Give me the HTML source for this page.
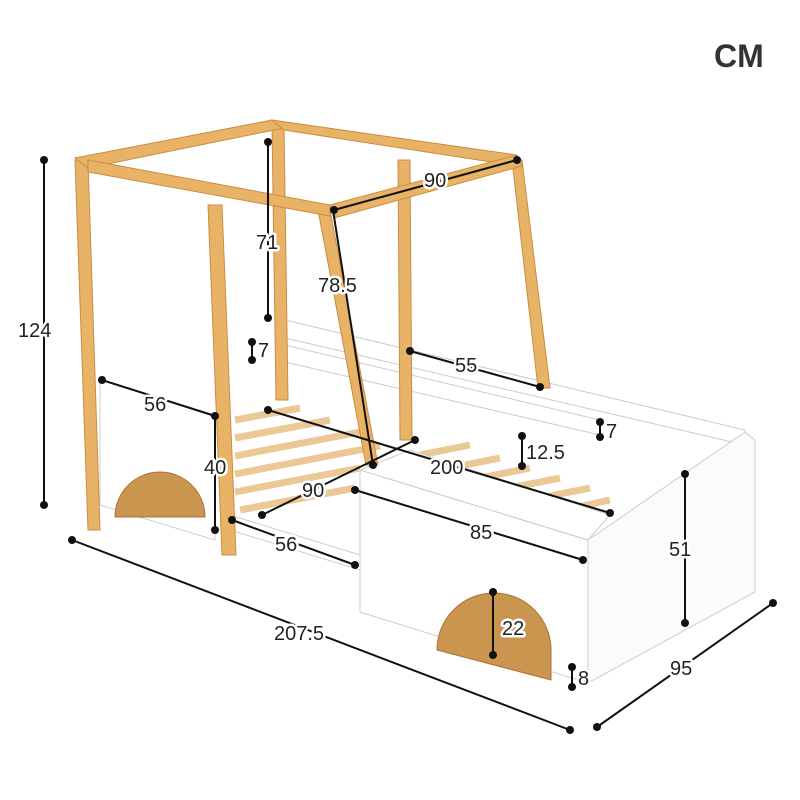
<!DOCTYPE html>
<html><head><style>
html,body{margin:0;padding:0;background:#fff;width:800px;height:800px;overflow:hidden}
svg text{font-family:"Liberation Sans",sans-serif;font-size:20px;fill:#222;stroke:#fff;stroke-width:5px;paint-order:stroke;stroke-linejoin:round}
</style></head><body>
<svg width="800" height="800" viewBox="0 0 800 800" xmlns="http://www.w3.org/2000/svg">
<rect width="800" height="800" fill="#fff"/>
<g stroke="#ecc896" stroke-width="7">
<line x1="235" y1="420" x2="300" y2="408"/><line x1="235" y1="438" x2="330" y2="420"/>
<line x1="235" y1="456" x2="360" y2="432"/><line x1="235" y1="474" x2="380" y2="446"/>
<line x1="235" y1="492" x2="360" y2="468"/><line x1="240" y1="510" x2="355" y2="488"/>
<line x1="420" y1="455" x2="470" y2="445"/><line x1="440" y1="470" x2="500" y2="458"/>
<line x1="470" y1="480" x2="530" y2="468"/><line x1="500" y1="490" x2="560" y2="478"/>
<line x1="530" y1="500" x2="590" y2="488"/><line x1="555" y1="512" x2="610" y2="500"/>
</g>
<polygon points="285,320 745,430 745,445 285,338" fill="#fff" stroke="#ccc"/>
<polygon points="285,345 600,420 600,435 285,362" fill="#fff" stroke="#ccc"/>
<polygon points="100,380 215,415 215,540 100,505" fill="#fff" stroke="#ccc"/>
<polygon points="230,515 360,555 360,570 230,530" fill="#fff" stroke="#ccc"/>
<polygon points="360,470 588,540 588,683 360,612" fill="#fff" stroke="#ccc"/>
<polygon points="588,540 745,432 755,440 755,592 588,683" fill="#fbfbfb" stroke="#ccc"/>
<polygon points="360,470 410,450 610,515 588,540" fill="#fff" stroke="#ccc"/>
<path d="M115,517 A45,45 0 0 1 205,517 Z" fill="#c9954f" stroke="#a87434"/>
<path d="M437,650 A57,57 0 0 1 551,650 L551,680 L437,650 Z" fill="#c9954f" stroke="#a87434"/>
<g fill="#e8b267" stroke="#c98e42" stroke-width="1">
<polygon points="75,160 88,160 100,530 88,530"/>
<polygon points="208,205 222,205 236,555 222,555"/>
<polygon points="272,125 284,125 288,400 276,400"/>
<polygon points="398,160 410,160 412,440 400,440"/>
<polygon points="512,160 522,160 550,388 538,388"/>
<polygon points="318,210 330,210 378,465 366,465"/>
<polygon points="75,158 272,120 284,128 88,168"/>
<polygon points="272,120 517,155 517,166 284,130"/>
<polygon points="88,160 330,205 330,216 88,172"/>
<polygon points="330,205 517,155 522,166 334,218"/>
</g>
<g stroke="#111" stroke-width="2" fill="none">
<line x1="44" y1="160" x2="44" y2="505"/>
<line x1="72" y1="540" x2="570" y2="730"/>
<line x1="597" y1="727" x2="773" y2="603"/>
<line x1="268" y1="142" x2="268" y2="318"/>
<line x1="333" y1="210" x2="373" y2="465"/>
<line x1="334" y1="210" x2="517" y2="160"/>
<line x1="252" y1="342" x2="252" y2="360"/>
<line x1="410" y1="351" x2="540" y2="387"/>
<line x1="102" y1="380" x2="215" y2="416"/>
<line x1="215" y1="418" x2="215" y2="530"/>
<line x1="600" y1="422" x2="600" y2="437"/>
<line x1="522" y1="436" x2="522" y2="466"/>
<line x1="268" y1="410" x2="610" y2="513"/>
<line x1="262" y1="515" x2="415" y2="440"/>
<line x1="355" y1="490" x2="583" y2="560"/>
<line x1="232" y1="520" x2="355" y2="565"/>
<line x1="685" y1="474" x2="685" y2="623"/>
<line x1="493" y1="592" x2="493" y2="655"/>
<line x1="572" y1="667" x2="572" y2="687"/>
</g>
<g fill="#111">
<circle cx="44" cy="160" r="4"/><circle cx="44" cy="505" r="4"/>
<circle cx="72" cy="540" r="4"/><circle cx="570" cy="730" r="4"/>
<circle cx="597" cy="727" r="4"/><circle cx="773" cy="603" r="4"/>
<circle cx="268" cy="142" r="4"/><circle cx="268" cy="318" r="4"/>
<circle cx="334" cy="210" r="4"/><circle cx="517" cy="160" r="4"/><circle cx="373" cy="465" r="4"/>
<circle cx="252" cy="342" r="4"/><circle cx="252" cy="360" r="4"/>
<circle cx="410" cy="351" r="4"/><circle cx="540" cy="387" r="4"/>
<circle cx="102" cy="380" r="4"/><circle cx="215" cy="416" r="4"/><circle cx="215" cy="530" r="4"/>
<circle cx="600" cy="422" r="4"/><circle cx="600" cy="437" r="4"/>
<circle cx="522" cy="436" r="4"/><circle cx="522" cy="466" r="4"/>
<circle cx="268" cy="410" r="4"/><circle cx="610" cy="513" r="4"/>
<circle cx="262" cy="515" r="4"/><circle cx="415" cy="440" r="4"/>
<circle cx="355" cy="490" r="4"/><circle cx="583" cy="560" r="4"/>
<circle cx="232" cy="520" r="4"/><circle cx="355" cy="565" r="4"/>
<circle cx="685" cy="474" r="4"/><circle cx="685" cy="623" r="4"/>
<circle cx="493" cy="592" r="4"/><circle cx="493" cy="655" r="4"/>
<circle cx="572" cy="667" r="4"/><circle cx="572" cy="687" r="4"/>
</g>
<g>
<text x="18" y="337">124</text>
<text x="274" y="640">207.5</text>
<text x="670" y="675">95</text>
<text x="256" y="249">71</text>
<text x="318" y="292">78.5</text>
<text x="424" y="187">90</text>
<text x="258" y="357">7</text>
<text x="455" y="372">55</text>
<text x="144" y="411">56</text>
<text x="204" y="474">40</text>
<text x="606" y="438">7</text>
<text x="526" y="459">12.5</text>
<text x="430" y="474">200</text>
<text x="302" y="497">90</text>
<text x="470" y="539">85</text>
<text x="275" y="551">56</text>
<text x="669" y="556">51</text>
<text x="502" y="635">22</text>
<text x="578" y="685">8</text>
<text x="714" y="67" style="font-size:32px;font-weight:bold;fill:#333">CM</text>
</g>
</svg>
</body></html>
